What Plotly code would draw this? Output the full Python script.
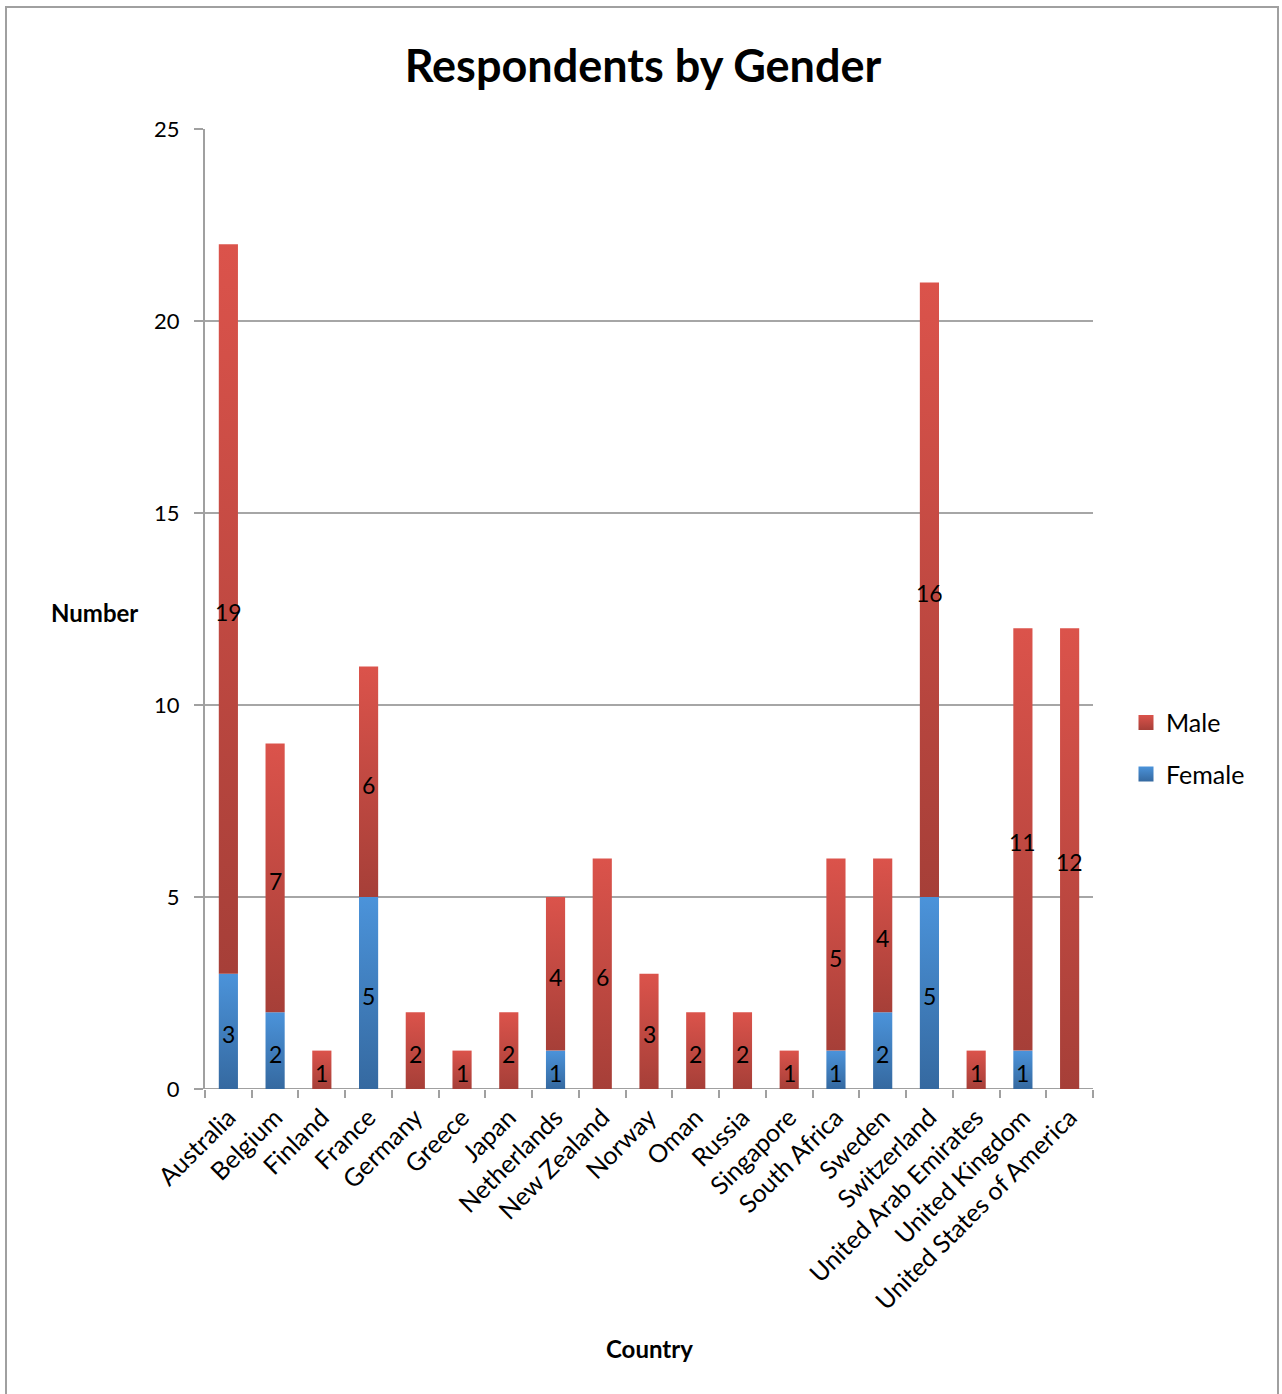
import plotly.graph_objects as go

# Respondents per country, split by gender
countries = ["Australia", "Belgium", "Finland", "France", "Germany", "Greece", "Japan",
             "Netherlands", "New Zealand", "Norway", "Oman", "Russia", "Singapore",
             "South Africa", "Sweden", "Switzerland", "United Arab Emirates",
             "United Kingdom", "United States of America"]
female = [3, 2, 0, 5, 0, 0, 0, 1, 0, 0, 0, 0, 0, 1, 2, 5, 0, 1, 0]
male = [19, 7, 1, 6, 2, 1, 2, 4, 6, 3, 2, 2, 1, 5, 4, 16, 1, 11, 12]
y_ticks = [0, 5, 10, 15, 20, 25]

FONT = "Lato"
RED_LIGHT, RED_DARK = "#db534b", "#a63f38"
BLUE_LIGHT, BLUE_DARK = "#4b93da", "#3569a0"
HALF_W = 0.205  # half bar width in category units

fig = go.Figure()

series = [
    ("Female", female, [0] * len(female), BLUE_LIGHT, BLUE_DARK),
    ("Male", male, female, RED_LIGHT, RED_DARK),
]

value_labels = []
for name, vals, bases, light, dark in series:
    for i, (v, b) in enumerate(zip(vals, bases)):
        if v <= 0:
            continue
        top = b + v
        fig.add_trace(go.Scatter(
            x=[i - HALF_W, i + HALF_W, i + HALF_W, i - HALF_W, i - HALF_W],
            y=[b, b, top, top, b],
            mode="lines", line=dict(width=0), fill="toself",
            fillgradient=dict(type="vertical", colorscale=[[0, dark], [1, light]]),
            showlegend=False, hoverinfo="skip",
        ))
        # value label centred in its segment
        value_labels.append(dict(
            x=i, y=b + v / 2, xref="x", yref="y", text=str(v), showarrow=False,
            xanchor="center", yanchor="middle", yshift=-3,
            font=dict(family=FONT, size=23, color="black"),
        ))

# Legend entries
for name, light, dark in [("Male", RED_LIGHT, RED_DARK), ("Female", BLUE_LIGHT, BLUE_DARK)]:
    fig.add_trace(go.Scatter(
        x=[None], y=[None], mode="markers", name=name, legendgroup=name,
        marker=dict(symbol="square", size=15, color=light,
                    gradient=dict(type="vertical", color=dark), line=dict(width=0)),
    ))

n = len(countries)
fig.update_layout(
    width=1282, height=1394,
    margin=dict(l=205, r=189, t=129, b=305),
    paper_bgcolor="white", plot_bgcolor="white",
    font=dict(family=FONT, size=22, color="black"),
    title=dict(text="<b>Respondents by Gender</b>", x=643 / 1282, xref="container",
               xanchor="center", y=1 - 66 / 1394, yref="container", yanchor="middle",
               font=dict(family=FONT, size=45, color="black")),
    xaxis=dict(
        range=[-0.5, n - 0.5], tickvals=list(range(n)), ticktext=countries,
        tickangle=-45, ticks="", showgrid=False, zeroline=False,
        showline=False, tickfont=dict(family=FONT, size=25), ticklabelstandoff=8,
        minor=dict(tickvals=[k - 0.5 for k in range(n + 1)], ticks="outside",
                   ticklen=8, tickcolor="#a0a0a0", tickwidth=2, showgrid=False),
        fixedrange=True,
    ),
    yaxis=dict(
        range=[0, 25], tickvals=y_ticks, showgrid=True, gridcolor="#a6a6a6",
        gridwidth=1.5, zeroline=False, showline=True, linecolor="#a0a0a0",
        linewidth=2, ticks="outside", ticklen=9, tickcolor="#a0a0a0", tickwidth=2,
        tickfont=dict(family=FONT, size=22), ticklabelstandoff=10, fixedrange=True,
    ),
    legend=dict(x=(1126 - 205) / 888, y=0.355, xanchor="left", yanchor="middle",
                font=dict(family=FONT, size=25), tracegroupgap=16,
                bgcolor="rgba(0,0,0,0)"),
    annotations=value_labels + [
        dict(text="<b>Number</b>", xref="paper", yref="paper",
             x=(94 - 205) / 888, y=(1089 - 612) / 960, showarrow=False,
             xanchor="center", yanchor="middle",
             font=dict(family=FONT, size=24)),
        dict(text="<b>Country</b>", xref="paper", yref="paper",
             x=(649 - 205) / 888, y=(1089 - 1348) / 960, showarrow=False,
             xanchor="center", yanchor="middle",
             font=dict(family=FONT, size=24)),
    ],
    shapes=[
        # outer chart frame
        dict(type="rect", xref="paper", yref="paper",
             x0=(6 - 205) / 888, x1=(1278 - 205) / 888,
             y0=(1089 - 1420) / 960, y1=(1089 - 7) / 960,
             line=dict(color="#a0a0a0", width=2), layer="below"),
        # baseline
        dict(type="line", xref="paper", yref="y", x0=0, x1=1, y0=0, y1=0,
             line=dict(color="#a0a0a0", width=2), layer="below"),
    ],
)

fig.write_html("out.html")
